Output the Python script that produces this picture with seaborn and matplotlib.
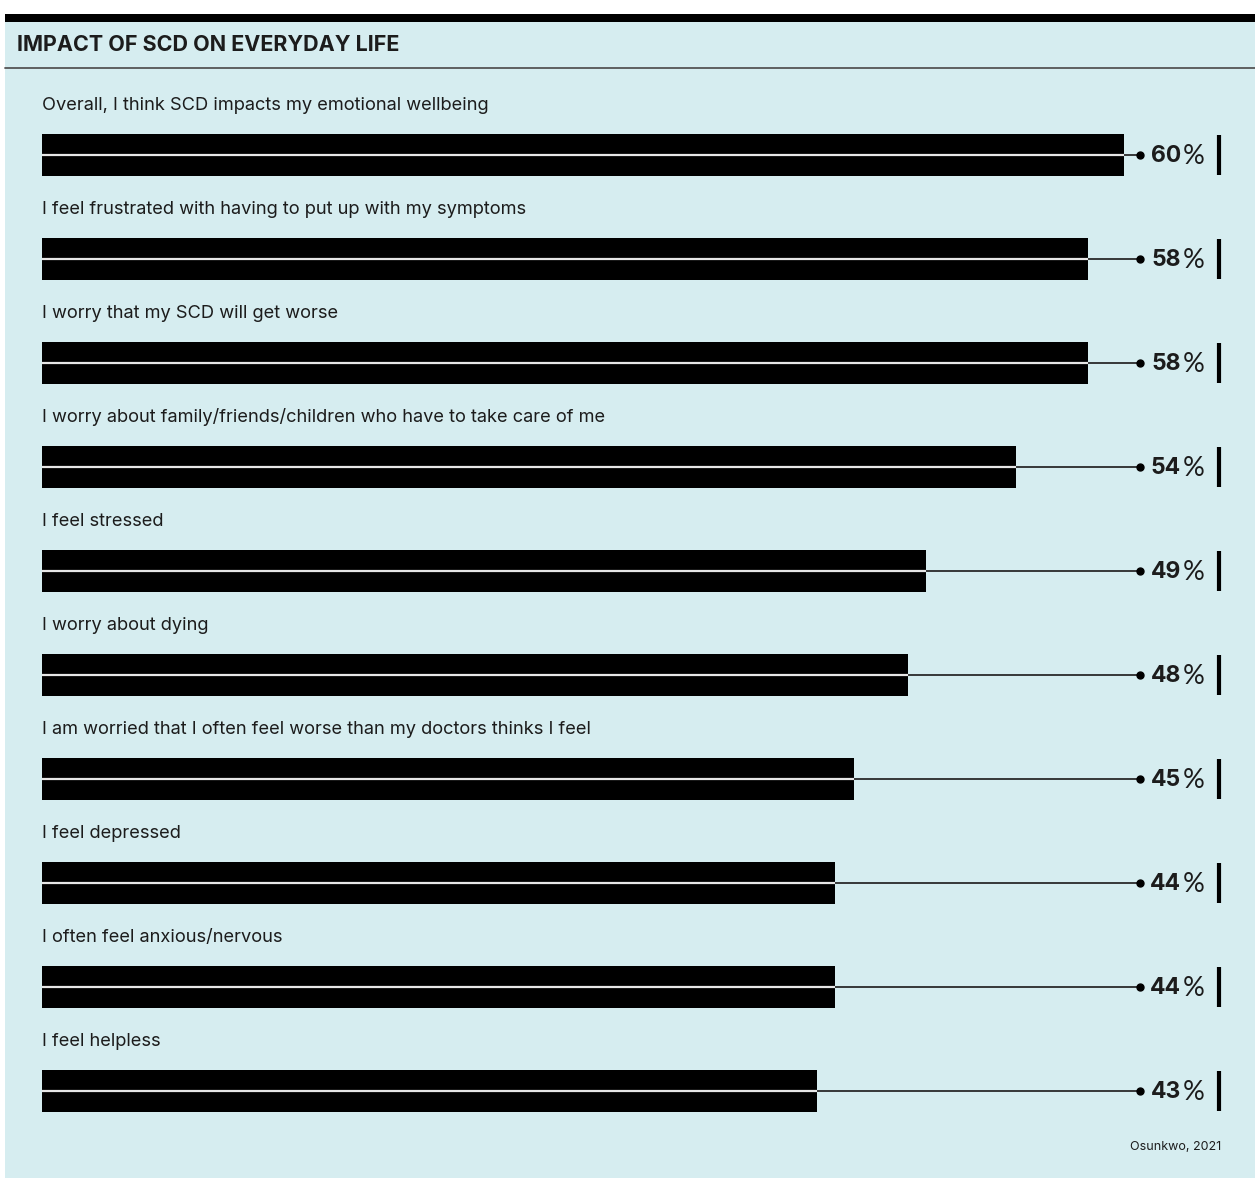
import matplotlib
matplotlib.use("Agg")
import matplotlib.pyplot as plt
import seaborn as sns
import pandas as pd
from matplotlib.patches import Rectangle
from matplotlib.lines import Line2D

# Survey statements and share of respondents agreeing (%)
statements = [
    "Overall, I think SCD impacts my emotional wellbeing",
    "I feel frustrated with having to put up with my symptoms",
    "I worry that my SCD will get worse",
    "I worry about family/friends/children who have to take care of me",
    "I feel stressed",
    "I worry about dying",
    "I am worried that I often feel worse than my doctors thinks I feel",
    "I feel depressed",
    "I often feel anxious/nervous",
    "I feel helpless",
]
shares = [60, 58, 58, 54, 49, 48, 45, 44, 44, 43]

title = "IMPACT OF SCD ON EVERYDAY LIFE"
source = "Osunkwo, 2021"

df = pd.DataFrame({"statement": statements, "share": shares})

W, H = 1255, 1179
sns.set_theme(style="white")
plt.rcParams["font.family"] = ["Inter", "DejaVu Sans"]
pct_font = ["Lato", "DejaVu Sans"]

fig = plt.figure(figsize=(W / 100, H / 100), dpi=100, facecolor="white")


def fx(px):
    return px / W


def fy(py):
    return 1 - py / H


panel_color = "#d6edf0"
text_color = "#1c1c1c"

# background panel, top band and title rule
fig.patches.append(Rectangle((fx(5), fy(1178)), fx(1255) - fx(5), fy(22) - fy(1178),
                             transform=fig.transFigure, facecolor=panel_color,
                             edgecolor="none", zorder=-2))
fig.patches.append(Rectangle((fx(5), fy(22)), fx(1255) - fx(5), fy(14) - fy(22),
                             transform=fig.transFigure, facecolor="black",
                             edgecolor="none", zorder=-1))
fig.lines.append(Line2D([fx(5), fx(1255)], [fy(67.5)] * 2, transform=fig.transFigure,
                        color="#555555", lw=1.3, zorder=-1))
fig.text(fx(17), fy(45), title, fontsize=15.5, fontweight="bold", color=text_color,
         ha="left", va="center")
fig.text(fx(1221), fy(1147), source, fontsize=9, color=text_color,
         ha="right", va="center")

# plotting area
ax_left, ax_right, ax_top, ax_bot = 42, 1222, 80, 1120
ax = fig.add_axes([fx(ax_left), fy(ax_bot), fx(ax_right) - fx(ax_left),
                   fy(ax_top) - fy(ax_bot)])
ax.set_facecolor("none")

px_per_pct = 1082 / 60
row_px = 104
sns.barplot(data=df, x="share", y="statement", orient="h", color="black",
            saturation=1, width=42 / row_px, linewidth=0, ax=ax)

xmax = (ax_right - ax_left) / px_per_pct
ax.set_xlim(0, xmax)
ytop = (ax_top - 155) / row_px
ax.set_ylim(ytop + (ax_bot - ax_top) / row_px, ytop)
ax.axis("off")

dot_x = (1140 - ax_left) / px_per_pct
num_x = (1181 - ax_left) / px_per_pct
pct_x = (1182.5 - ax_left) / px_per_pct
tick_x = (1219 - ax_left) / px_per_pct

for i, (s, v) in enumerate(zip(statements, shares)):
    ax.text(0, i - 50 / row_px, s, fontsize=13.15, color=text_color,
            ha="left", va="center")
    ax.hlines(i, 0, v, color="#e6e6e6", lw=1.6, zorder=3)
    ax.hlines(i, v, dot_x, color="#2a2a2a", lw=1.3, zorder=3)
    ax.plot([dot_x], [i], "o", ms=5, color="black", zorder=4)
    ax.text(num_x, i + 1 / row_px, f"{v}", fontsize=16.5, fontweight="bold",
            color=text_color, ha="right", va="center")
    ax.text(pct_x, i + 1.5 / row_px, "%", fontsize=19.5, fontweight="normal",
            family=pct_font, color=text_color, ha="left", va="center")
    ax.vlines(tick_x, i - 20 / row_px, i + 20 / row_px, color="black", lw=3, zorder=4)

fig.savefig("out.png", dpi=100, facecolor="white")
